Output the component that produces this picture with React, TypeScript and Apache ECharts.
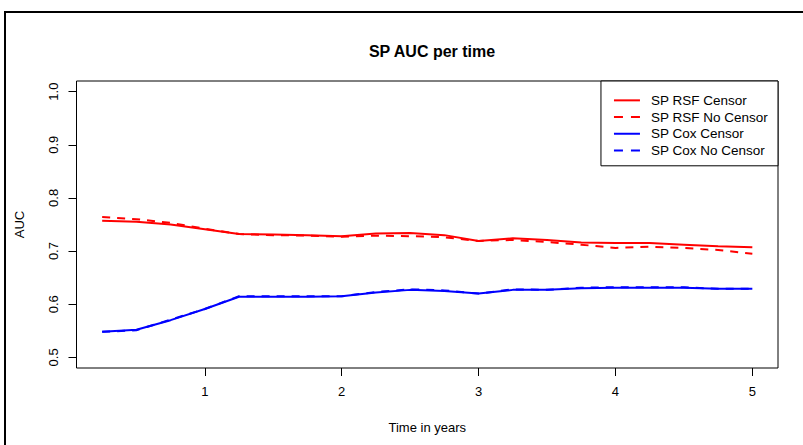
import React, { useEffect, useRef } from "react";
import * as echarts from "echarts";

const times = [0.25, 0.5, 0.75, 1.0, 1.25, 1.5, 1.75, 2.0, 2.25, 2.5, 2.75, 3.0, 3.25, 3.5, 3.75, 4.0, 4.25, 4.5, 4.75, 5.0];
const rsfCensor = [0.757, 0.755, 0.75, 0.741, 0.732, 0.731, 0.73, 0.728, 0.733, 0.734, 0.73, 0.719, 0.724, 0.721, 0.716, 0.715, 0.715, 0.712, 0.709, 0.707];
const rsfNoCensor = [0.764, 0.76, 0.753, 0.742, 0.732, 0.73, 0.729, 0.727, 0.729, 0.728, 0.726, 0.719, 0.721, 0.717, 0.712, 0.706, 0.708, 0.706, 0.702, 0.695];
const coxCensor = [0.548, 0.552, 0.57, 0.591, 0.614, 0.614, 0.614, 0.615, 0.622, 0.627, 0.625, 0.62, 0.627, 0.627, 0.63, 0.631, 0.631, 0.631, 0.629, 0.629];
const coxNoCensor = [0.548, 0.551, 0.571, 0.591, 0.615, 0.615, 0.615, 0.615, 0.623, 0.628, 0.626, 0.62, 0.628, 0.627, 0.631, 0.632, 0.632, 0.632, 0.629, 0.629];
const xTicks = [1, 2, 3, 4, 5];
const yTicks = [0.5, 0.6, 0.7, 0.8, 0.9, 1.0];
const seriesNames = ["SP RSF Censor", "SP RSF No Censor", "SP Cox Censor", "SP Cox No Censor"];

const FONT = "'Liberation Sans', Arial, sans-serif";
const SOLID_ICON = "path://M0,0H26V2H0Z";
const DASH_ICON = "path://M0,0H9V2H0Z M17,0H26V2H17Z";

export default function App() {
  const ref = useRef<HTMLDivElement>(null);
  useEffect(() => {
    document.body.style.margin = "0";
    const chart = echarts.init(ref.current!, undefined, { renderer: "svg" });
    const mk = (name: string, vals: number[], color: string, dashed: boolean) => ({
      name,
      type: "line",
      data: times.map((t, i) => [t, vals[i]]),
      symbol: "none",
      showSymbol: false,
      lineStyle: { color, width: 2, type: dashed ? [8, 7] : "solid" },
      itemStyle: { color },
      z: dashed ? 3 : 2,
    });
    chart.setOption({
      animation: false,
      backgroundColor: "#fff",
      textStyle: { fontFamily: FONT },
      title: {
        text: "SP AUC per time",
        left: 427,
        textAlign: "center",
        top: 38,
        textStyle: { fontSize: 16, fontWeight: "bold", color: "#000", fontFamily: FONT },
      },
      legend: {
        right: 25,
        top: 81,
        orient: "vertical",
        backgroundColor: "#fff",
        borderColor: "#000",
        borderWidth: 1,
        borderRadius: 0,
        padding: [11, 10, 7, 13],
        itemGap: 0,
        itemWidth: 26,
        itemHeight: 2,
        data: seriesNames.map((n, i) => ({ name: n, icon: i % 2 === 0 ? SOLID_ICON : DASH_ICON })),
        textStyle: { fontSize: 13.5, color: "#000", fontFamily: FONT, lineHeight: 16.7, padding: [0, 0, 0, 6] },
      },
      grid: { left: 76.5, right: 25, top: 81, bottom: 77, show: true, borderColor: "#000", borderWidth: 1, containLabel: false },
      xAxis: {
        type: "value",
        min: 0.0625,
        max: 5.1875,
        name: "Time in years",
        nameLocation: "middle",
        nameGap: 53,
        nameTextStyle: { fontSize: 13, color: "#000", fontFamily: FONT },
        axisLine: { show: false },
        axisTick: { show: true, length: 8, customValues: xTicks, lineStyle: { color: "#000" } },
        axisLabel: { customValues: xTicks, margin: 17, fontSize: 13, color: "#000", fontFamily: FONT },
        splitLine: { show: false },
      },
      yAxis: {
        type: "value",
        min: 0.48,
        max: 1.02,
        name: "AUC",
        nameLocation: "middle",
        nameRotate: 90,
        nameGap: 51,
        nameTextStyle: { fontSize: 13, color: "#000", fontFamily: FONT },
        axisLine: { show: false },
        axisTick: { show: true, length: 8, customValues: yTicks, lineStyle: { color: "#000" } },
        axisLabel: {
          customValues: yTicks,
          rotate: 90,
          margin: 17,
          fontSize: 13,
          color: "#000",
          fontFamily: FONT,
          formatter: (v: number) => v.toFixed(1),
        },
        splitLine: { show: false },
      },
      graphic: [
        {
          type: "rect",
          shape: { x: 5, y: 12, width: 1200, height: 1200 },
          style: { fill: "none", stroke: "#000", lineWidth: 2 },
          silent: true,
        },
      ],
      series: [
        mk(seriesNames[0], rsfCensor, "#ff0000", false),
        mk(seriesNames[1], rsfNoCensor, "#ff0000", true),
        mk(seriesNames[2], coxCensor, "#0000ff", false),
        mk(seriesNames[3], coxNoCensor, "#0000ff", true),
      ],
    });
    return () => chart.dispose();
  }, []);
  return <div ref={ref} style={{ width: 803, height: 445 }} />;
}
